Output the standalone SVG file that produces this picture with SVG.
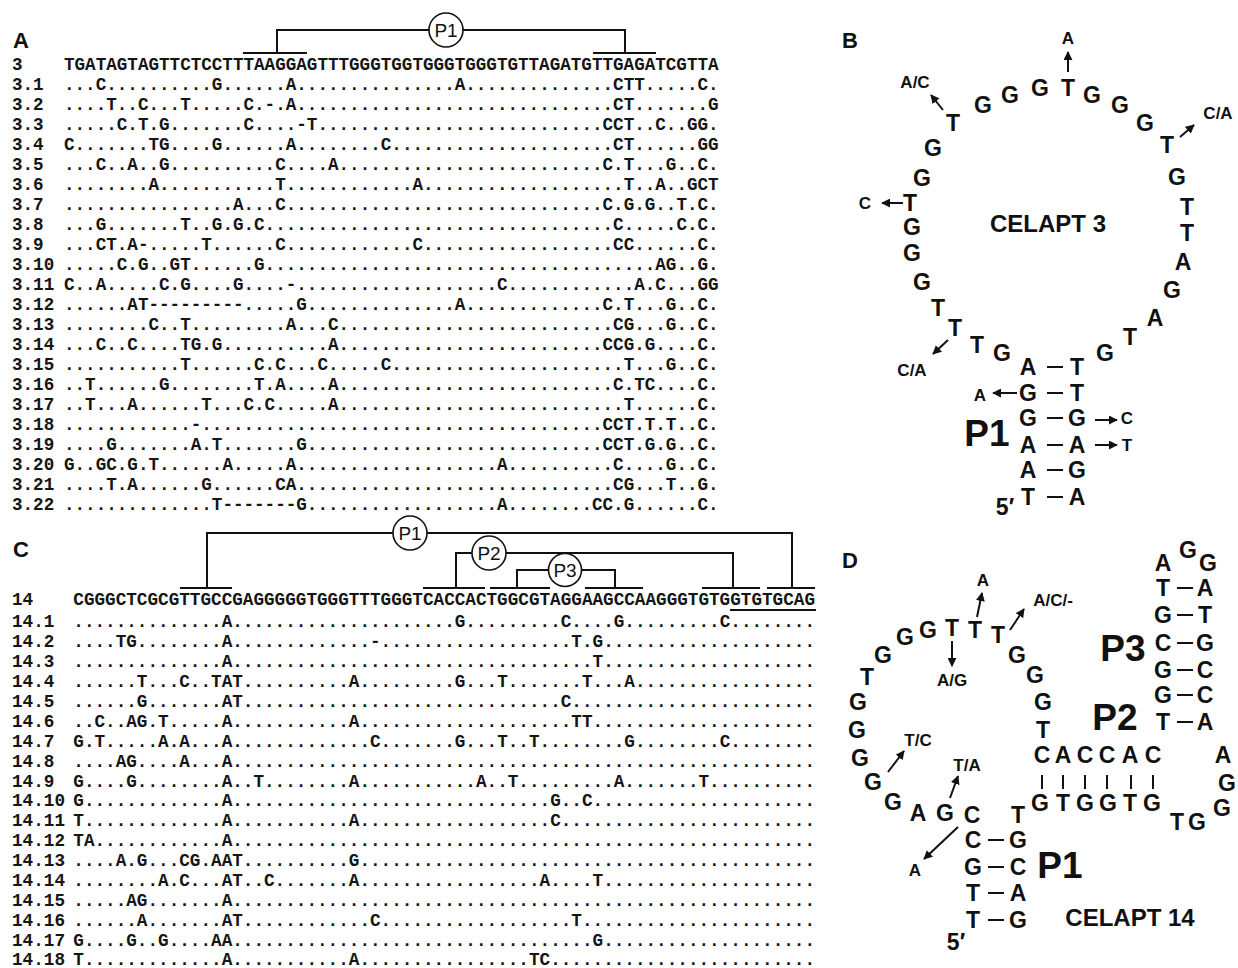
<svg xmlns="http://www.w3.org/2000/svg" width="1238" height="968" viewBox="0 0 1238 968">
<style>
.sq{font-family:"Liberation Mono","Courier New",monospace;font-weight:bold;font-size:17.6px;fill:#151515}
.sc{font-size:17.66px}
.pl{font-family:"Liberation Sans",Arial,sans-serif;font-weight:bold;font-size:22px;fill:#111}
.nt{font-family:"Liberation Sans",Arial,sans-serif;font-weight:bold;font-size:23px;text-anchor:middle;fill:#111}
.vr{font-size:17px}
.bg{font-size:37px}
.ct{font-size:24px}
.ln{stroke:#111;stroke-width:2;fill:none}
.ar{stroke:#111;stroke-width:2;fill:none;marker-end:url(#ah)}
.cc{fill:#fff;stroke:#111;stroke-width:1.6}
.pt{font-family:"Liberation Sans",Arial,sans-serif;font-size:19px;text-anchor:middle;fill:#111}
</style>
<defs>
<marker id="ah" viewBox="0 0 10 10" refX="9" refY="5" markerWidth="4.5" markerHeight="4.5" orient="auto"><path d="M0,0 L10,5 L0,10 z" fill="#111"/></marker>
</defs>
<rect width="1238" height="968" fill="#fff"/>

<g id="panelA">
<text class="pl" x="13" y="48">A</text>
<g class="sq">
<text x="12" y="70">3</text>
<text x="64" y="70">TGATAGTAGTTCTCCTTTAAGGAGTTTGGGTGGTGGGTGGGTGTTAGATGTTGAGATCGTTA</text>
<text x="12" y="90">3.1</text><text x="64" y="90"><tspan>...C......</tspan><tspan>....G.....</tspan><tspan>.A........</tspan><tspan>.......A..</tspan><tspan>..........</tspan><tspan>..CTT.....</tspan><tspan>C.</tspan></text>
<text x="12" y="110">3.2</text><text x="64" y="110"><tspan>....T..C..</tspan><tspan>.T.....C.-</tspan><tspan>.A........</tspan><tspan>..........</tspan><tspan>..........</tspan><tspan>..CT......</tspan><tspan>.G</tspan></text>
<text x="12" y="130">3.3</text><text x="64" y="130"><tspan>.....C.T.G</tspan><tspan>.......C..</tspan><tspan>..-T......</tspan><tspan>..........</tspan><tspan>..........</tspan><tspan>.CCT..C..G</tspan><tspan>G.</tspan></text>
<text x="12" y="150">3.4</text><text x="64" y="150"><tspan>C.......TG</tspan><tspan>....G.....</tspan><tspan>.A........</tspan><tspan>C.........</tspan><tspan>..........</tspan><tspan>..CT......</tspan><tspan>GG</tspan></text>
<text x="12" y="170">3.5</text><text x="64" y="170"><tspan>...C..A..G</tspan><tspan>..........</tspan><tspan>C....A....</tspan><tspan>..........</tspan><tspan>..........</tspan><tspan>.C.T...G..</tspan><tspan>C.</tspan></text>
<text x="12" y="190">3.6</text><text x="64" y="190"><tspan>........A.</tspan><tspan>..........</tspan><tspan>T.........</tspan><tspan>...A......</tspan><tspan>..........</tspan><tspan>...T..A..G</tspan><tspan>CT</tspan></text>
<text x="12" y="210">3.7</text><text x="64" y="210"><tspan>..........</tspan><tspan>......A...</tspan><tspan>C.........</tspan><tspan>..........</tspan><tspan>..........</tspan><tspan>.C.G.G..T.</tspan><tspan>C.</tspan></text>
<text x="12" y="230">3.8</text><text x="64" y="230"><tspan>...G......</tspan><tspan>.T..G.G.C.</tspan><tspan>..........</tspan><tspan>..........</tspan><tspan>..........</tspan><tspan>..C.....C.</tspan><tspan>C.</tspan></text>
<text x="12" y="250">3.9</text><text x="64" y="250"><tspan>...CT.A-..</tspan><tspan>...T......</tspan><tspan>C.........</tspan><tspan>...C......</tspan><tspan>..........</tspan><tspan>..CC......</tspan><tspan>C.</tspan></text>
<text x="12" y="270">3.10</text><text x="64" y="270"><tspan>.....C.G..</tspan><tspan>GT......G.</tspan><tspan>..........</tspan><tspan>..........</tspan><tspan>..........</tspan><tspan>......AG..</tspan><tspan>G.</tspan></text>
<text x="12" y="290">3.11</text><text x="64" y="290"><tspan>C..A.....C</tspan><tspan>.G....G...</tspan><tspan>.-........</tspan><tspan>..........</tspan><tspan>.C........</tspan><tspan>....A.C...</tspan><tspan>GG</tspan></text>
<text x="12" y="310">3.12</text><text x="64" y="310"><tspan>......AT--</tspan><tspan>-------...</tspan><tspan>..G.......</tspan><tspan>.......A..</tspan><tspan>..........</tspan><tspan>.C.T...G..</tspan><tspan>C.</tspan></text>
<text x="12" y="330">3.13</text><text x="64" y="330"><tspan>........C.</tspan><tspan>.T........</tspan><tspan>.A...C....</tspan><tspan>..........</tspan><tspan>..........</tspan><tspan>..CG...G..</tspan><tspan>C.</tspan></text>
<text x="12" y="350">3.14</text><text x="64" y="350"><tspan>...C..C...</tspan><tspan>.TG.G.....</tspan><tspan>.....A....</tspan><tspan>..........</tspan><tspan>..........</tspan><tspan>.CCG.G....</tspan><tspan>C.</tspan></text>
<text x="12" y="370">3.15</text><text x="64" y="370"><tspan>..........</tspan><tspan>.T......C.</tspan><tspan>C...C.....</tspan><tspan>C.........</tspan><tspan>..........</tspan><tspan>...T...G..</tspan><tspan>C.</tspan></text>
<text x="12" y="390">3.16</text><text x="64" y="390"><tspan>..T......G</tspan><tspan>........T.</tspan><tspan>A....A....</tspan><tspan>..........</tspan><tspan>..........</tspan><tspan>..C.TC....</tspan><tspan>C.</tspan></text>
<text x="12" y="410">3.17</text><text x="64" y="410"><tspan>..T...A...</tspan><tspan>...T...C.C</tspan><tspan>.....A....</tspan><tspan>..........</tspan><tspan>..........</tspan><tspan>...T......</tspan><tspan>C.</tspan></text>
<text x="12" y="430">3.18</text><text x="64" y="430"><tspan>..........</tspan><tspan>..-.......</tspan><tspan>..........</tspan><tspan>..........</tspan><tspan>..........</tspan><tspan>.CCT.T.T..</tspan><tspan>C.</tspan></text>
<text x="12" y="450">3.19</text><text x="64" y="450"><tspan>....G.....</tspan><tspan>..A.T.....</tspan><tspan>..G.......</tspan><tspan>..........</tspan><tspan>..........</tspan><tspan>.CCT.G.G..</tspan><tspan>C.</tspan></text>
<text x="12" y="470">3.20</text><text x="64" y="470"><tspan>G..GC.G.T.</tspan><tspan>.....A....</tspan><tspan>.A........</tspan><tspan>..........</tspan><tspan>.A........</tspan><tspan>..C....G..</tspan><tspan>C.</tspan></text>
<text x="12" y="490">3.21</text><text x="64" y="490"><tspan>....T.A...</tspan><tspan>...G......</tspan><tspan>CA........</tspan><tspan>..........</tspan><tspan>..........</tspan><tspan>..CG...T..</tspan><tspan>G.</tspan></text>
<text x="12" y="510">3.22</text><text x="64" y="510"><tspan>..........</tspan><tspan>....T-----</tspan><tspan>--G.......</tspan><tspan>..........</tspan><tspan>.A........</tspan><tspan>CC.G......</tspan><tspan>C.</tspan></text>
</g>
</g>

<g id="panelC">
<text class="pl" x="13" y="557">C</text>
<g class="sq sc">
<text x="12" y="605">14</text>
<text x="73.3" y="605">CGGGCTCGCGTTGCCGAGGGGGTGGGTTTGGGTCACCACTGGCGTAGGAAGCCAAGGGTGTGGTGTGCAG</text>
<text x="12" y="627">14.1</text><text x="73.3" y="627"><tspan>..........</tspan><tspan>....A.....</tspan><tspan>..........</tspan><tspan>......G...</tspan><tspan>......C...</tspan><tspan>.G........</tspan><tspan>.C........</tspan></text>
<text x="12" y="647">14.2</text><text x="73.3" y="647"><tspan>....TG....</tspan><tspan>....A.....</tspan><tspan>........-.</tspan><tspan>..........</tspan><tspan>.......T.G</tspan><tspan>..........</tspan><tspan>..........</tspan></text>
<text x="12" y="667">14.3</text><text x="73.3" y="667"><tspan>..........</tspan><tspan>....A.....</tspan><tspan>..........</tspan><tspan>..........</tspan><tspan>.........T</tspan><tspan>..........</tspan><tspan>..........</tspan></text>
<text x="12" y="687">14.4</text><text x="73.3" y="687"><tspan>......T...</tspan><tspan>C..TAT....</tspan><tspan>......A...</tspan><tspan>......G...</tspan><tspan>T.......T.</tspan><tspan>..A.......</tspan><tspan>..........</tspan></text>
<text x="12" y="707">14.5</text><text x="73.3" y="707"><tspan>......G...</tspan><tspan>....AT....</tspan><tspan>..........</tspan><tspan>..........</tspan><tspan>......C...</tspan><tspan>..........</tspan><tspan>..........</tspan></text>
<text x="12" y="727">14.6</text><text x="73.3" y="727"><tspan>..C..AG.T.</tspan><tspan>....A.....</tspan><tspan>......A...</tspan><tspan>..........</tspan><tspan>.......TT.</tspan><tspan>..........</tspan><tspan>..........</tspan></text>
<text x="12" y="747">14.7</text><text x="73.3" y="747"><tspan>G.T.....A.</tspan><tspan>A...A.....</tspan><tspan>........C.</tspan><tspan>......G...</tspan><tspan>T..T......</tspan><tspan>..G.......</tspan><tspan>.C........</tspan></text>
<text x="12" y="767">14.8</text><text x="73.3" y="767"><tspan>....AG....</tspan><tspan>A...A.....</tspan><tspan>..........</tspan><tspan>..........</tspan><tspan>..........</tspan><tspan>..........</tspan><tspan>..........</tspan></text>
<text x="12" y="787">14.9</text><text x="73.3" y="787"><tspan>G....G....</tspan><tspan>....A..T..</tspan><tspan>......A...</tspan><tspan>........A.</tspan><tspan>.T........</tspan><tspan>.A.......T</tspan><tspan>..........</tspan></text>
<text x="12" y="806">14.10</text><text x="73.3" y="806"><tspan>G.........</tspan><tspan>....A.....</tspan><tspan>..........</tspan><tspan>..........</tspan><tspan>.....G..C.</tspan><tspan>..........</tspan><tspan>..........</tspan></text>
<text x="12" y="826">14.11</text><text x="73.3" y="826"><tspan>T.........</tspan><tspan>....A.....</tspan><tspan>......A...</tspan><tspan>..........</tspan><tspan>.....C....</tspan><tspan>..........</tspan><tspan>..........</tspan></text>
<text x="12" y="846">14.12</text><text x="73.3" y="846"><tspan>TA........</tspan><tspan>....A.....</tspan><tspan>..........</tspan><tspan>..........</tspan><tspan>..........</tspan><tspan>..........</tspan><tspan>..........</tspan></text>
<text x="12" y="866">14.13</text><text x="73.3" y="866"><tspan>....A.G...</tspan><tspan>CG.AAT....</tspan><tspan>......G...</tspan><tspan>..........</tspan><tspan>..........</tspan><tspan>..........</tspan><tspan>..........</tspan></text>
<text x="12" y="886">14.14</text><text x="73.3" y="886"><tspan>........A.</tspan><tspan>C...AT..C.</tspan><tspan>......A...</tspan><tspan>..........</tspan><tspan>....A....T</tspan><tspan>..........</tspan><tspan>..........</tspan></text>
<text x="12" y="906">14.15</text><text x="73.3" y="906"><tspan>.....AG...</tspan><tspan>....A.....</tspan><tspan>..........</tspan><tspan>..........</tspan><tspan>..........</tspan><tspan>..........</tspan><tspan>..........</tspan></text>
<text x="12" y="926">14.16</text><text x="73.3" y="926"><tspan>......A...</tspan><tspan>....AT....</tspan><tspan>........C.</tspan><tspan>..........</tspan><tspan>.......T..</tspan><tspan>..........</tspan><tspan>..........</tspan></text>
<text x="12" y="946">14.17</text><text x="73.3" y="946"><tspan>G....G..G.</tspan><tspan>...AA.....</tspan><tspan>..........</tspan><tspan>..........</tspan><tspan>.........G</tspan><tspan>..........</tspan><tspan>..........</tspan></text>
<text x="12" y="965">14.18</text><text x="73.3" y="965"><tspan>T.........</tspan><tspan>....A.....</tspan><tspan>......A...</tspan><tspan>..........</tspan><tspan>...TC.....</tspan><tspan>..........</tspan><tspan>..........</tspan></text>
</g>
</g>

<g id="connectors">
<!-- panel A P1 bracket -->
<path class="ln" d="M243,53 H307 M277,53 V30 H429 M463,30 H625 V53 M593,53 H656"/>
<!-- panel C brackets -->
<path class="ln" d="M180,588 H232 M207,588 V533 H393 M427,533 H792 V588 M767,588 H815"/>
<path class="ln" d="M423,588 H485 M456,588 V553 H472 M506,553 H733 V588 M702,588 H760"/>
<path class="ln" d="M490,588 H550 M517,588 V570 H549 M581,570 H615 V588 M585,588 H643"/>
<path class="ln" d="M730,610 H816" stroke-width="1.6"/>
</g>

<g id="labelP1A"><circle class="cc" cx="446" cy="30" r="17"/><text class="pt" x="446" y="37">P1</text></g>
<g id="labelP1C"><circle class="cc" cx="410" cy="533" r="17"/><text class="pt" x="410" y="540">P1</text></g>
<g id="labelP2C"><circle class="cc" cx="489" cy="553" r="17"/><text class="pt" x="489" y="560">P2</text></g>
<g id="labelP3C"><circle class="cc" cx="565" cy="570" r="16.5"/><text class="pt" x="565" y="577">P3</text></g>

<g id="panelB">
<text class="pl" x="842" y="48">B</text>
<g class="nt">
<text x="953" y="131">T</text><text x="983" y="113">G</text><text x="1010" y="103">G</text><text x="1040" y="96">G</text><text x="1068" y="96">T</text><text x="1092" y="103">G</text><text x="1120" y="113">G</text><text x="1145" y="131">G</text><text x="1167" y="153">T</text>
<text x="1177" y="185">G</text><text x="1187" y="215">T</text><text x="1187" y="241">T</text><text x="1183" y="270">A</text><text x="1172" y="298">G</text><text x="1155" y="326">A</text><text x="1130" y="345">T</text><text x="1105" y="361">G</text>
<text x="933" y="156">G</text><text x="922" y="186">G</text><text x="910" y="211">T</text><text x="912" y="235">G</text><text x="912" y="261">G</text><text x="922" y="290">G</text><text x="938" y="316">T</text><text x="955" y="336">T</text><text x="977" y="353">T</text><text x="1002" y="361">G</text>
<text x="1028" y="375">A</text><text x="1077" y="375">T</text>
<text x="1028" y="401">G</text><text x="1077" y="401">T</text>
<text x="1028" y="426">G</text><text x="1077" y="426">G</text>
<text x="1028" y="453">A</text><text x="1077" y="453">A</text>
<text x="1028" y="478">A</text><text x="1077" y="478">G</text>
<text x="1028" y="505">T</text><text x="1077" y="505">A</text>
<text x="1005" y="515">5′</text>
<text class="bg" x="987" y="446">P1</text>
<text class="ct" x="1048" y="232">CELAPT 3</text>
<text class="vr" x="1068" y="44">A</text>
<text class="vr" x="915" y="88">A/C</text>
<text class="vr" x="1218" y="119">C/A</text>
<text class="vr" x="865" y="209">C</text>
<text class="vr" x="912" y="376">C/A</text>
<text class="vr" x="980" y="401">A</text>
<text class="vr" x="1127" y="424">C</text>
<text class="vr" x="1127" y="451">T</text>
</g>
<path class="ln" d="M1047,367 H1063 M1047,393 H1063 M1047,418 H1063 M1047,445 H1063 M1047,470 H1063 M1047,497 H1063"/>
<path class="ar" d="M1068,72 V52"/>
<path class="ar" d="M943,110 L931,95"/>
<path class="ar" d="M1180,137 L1194,125"/>
<path class="ar" d="M903,203 H882"/>
<path class="ar" d="M948,340 L933,354"/>
<path class="ar" d="M1017,393 H993"/>
<path class="ar" d="M1095,420 H1117"/>
<path class="ar" d="M1095,445 H1117"/>
</g>

<g id="panelD">
<text class="pl" x="842" y="568">D</text>
<g class="nt">
<text x="860" y="766">G</text><text x="873" y="790">G</text><text x="893" y="810">G</text><text x="918" y="821">A</text><text x="945" y="821">G</text><text x="972" y="823">C</text>
<text x="857" y="738">G</text><text x="858" y="710">G</text><text x="867" y="685">T</text><text x="883" y="663">G</text><text x="905" y="645">G</text><text x="928" y="638">G</text><text x="952" y="636">T</text><text x="975" y="638">T</text><text x="998" y="643">T</text>
<text x="1017" y="663">G</text><text x="1035" y="683">G</text><text x="1043" y="710">G</text><text x="1043" y="738">T</text>
<text x="1042" y="763">C</text><text x="1063" y="763">A</text><text x="1085" y="763">C</text><text x="1107" y="763">C</text><text x="1130" y="763">A</text><text x="1153" y="763">C</text>
<text x="1040" y="811">G</text><text x="1063" y="811">T</text><text x="1085" y="811">G</text><text x="1108" y="811">G</text><text x="1130" y="811">T</text><text x="1152" y="811">G</text>
<text x="1018" y="823">T</text>
<text x="1177" y="830">T</text><text x="1197" y="830">G</text><text x="1222" y="816">G</text><text x="1227" y="791">G</text><text x="1223" y="763">A</text>
<text x="1163" y="571">A</text><text x="1188" y="558">G</text><text x="1208" y="571">G</text>
<text x="1163" y="596">T</text><text x="1205" y="596">A</text>
<text x="1163" y="623">G</text><text x="1205" y="623">T</text>
<text x="1163" y="651">C</text><text x="1205" y="651">G</text>
<text x="1163" y="678">G</text><text x="1205" y="678">C</text>
<text x="1163" y="703">G</text><text x="1205" y="703">C</text>
<text x="1163" y="730">T</text><text x="1205" y="730">A</text>
<text x="973" y="848">C</text><text x="1018" y="848">G</text>
<text x="973" y="875">G</text><text x="1018" y="875">C</text>
<text x="973" y="901">T</text><text x="1018" y="901">A</text>
<text x="973" y="928">T</text><text x="1018" y="928">G</text>
<text x="956" y="950">5′</text>
<text class="bg" x="1123" y="661">P3</text>
<text class="bg" x="1115" y="730">P2</text>
<text class="bg" x="1060" y="878">P1</text>
<text class="ct" x="1130" y="926">CELAPT 14</text>
<text class="vr" x="983" y="586">A</text>
<text class="vr" x="1053" y="606">A/C/-</text>
<text class="vr" x="952" y="686">A/G</text>
<text class="vr" x="918" y="746">T/C</text>
<text class="vr" x="967" y="771">T/A</text>
<text class="vr" x="915" y="876">A</text>
</g>
<path class="ln" d="M1177,588 H1193 M1177,615 H1193 M1177,643 H1193 M1177,670 H1193 M1177,695 H1193 M1177,722 H1193"/>
<path class="ln" d="M988,840 H1004 M988,867 H1004 M988,893 H1004 M988,920 H1004"/>
<path class="ln" d="M1042,775 V789 M1063,775 V789 M1085,775 V789 M1107,775 V789 M1131,775 V789 M1153,775 V789"/>
<path class="ar" d="M977,617 L982,593"/>
<path class="ar" d="M1010,630 L1024,609"/>
<path class="ar" d="M952,641 V666"/>
<path class="ar" d="M888,772 L904,751"/>
<path class="ar" d="M950,798 L958,776"/>
<path class="ar" d="M958,827 L924,859"/>
</g>
</svg>
